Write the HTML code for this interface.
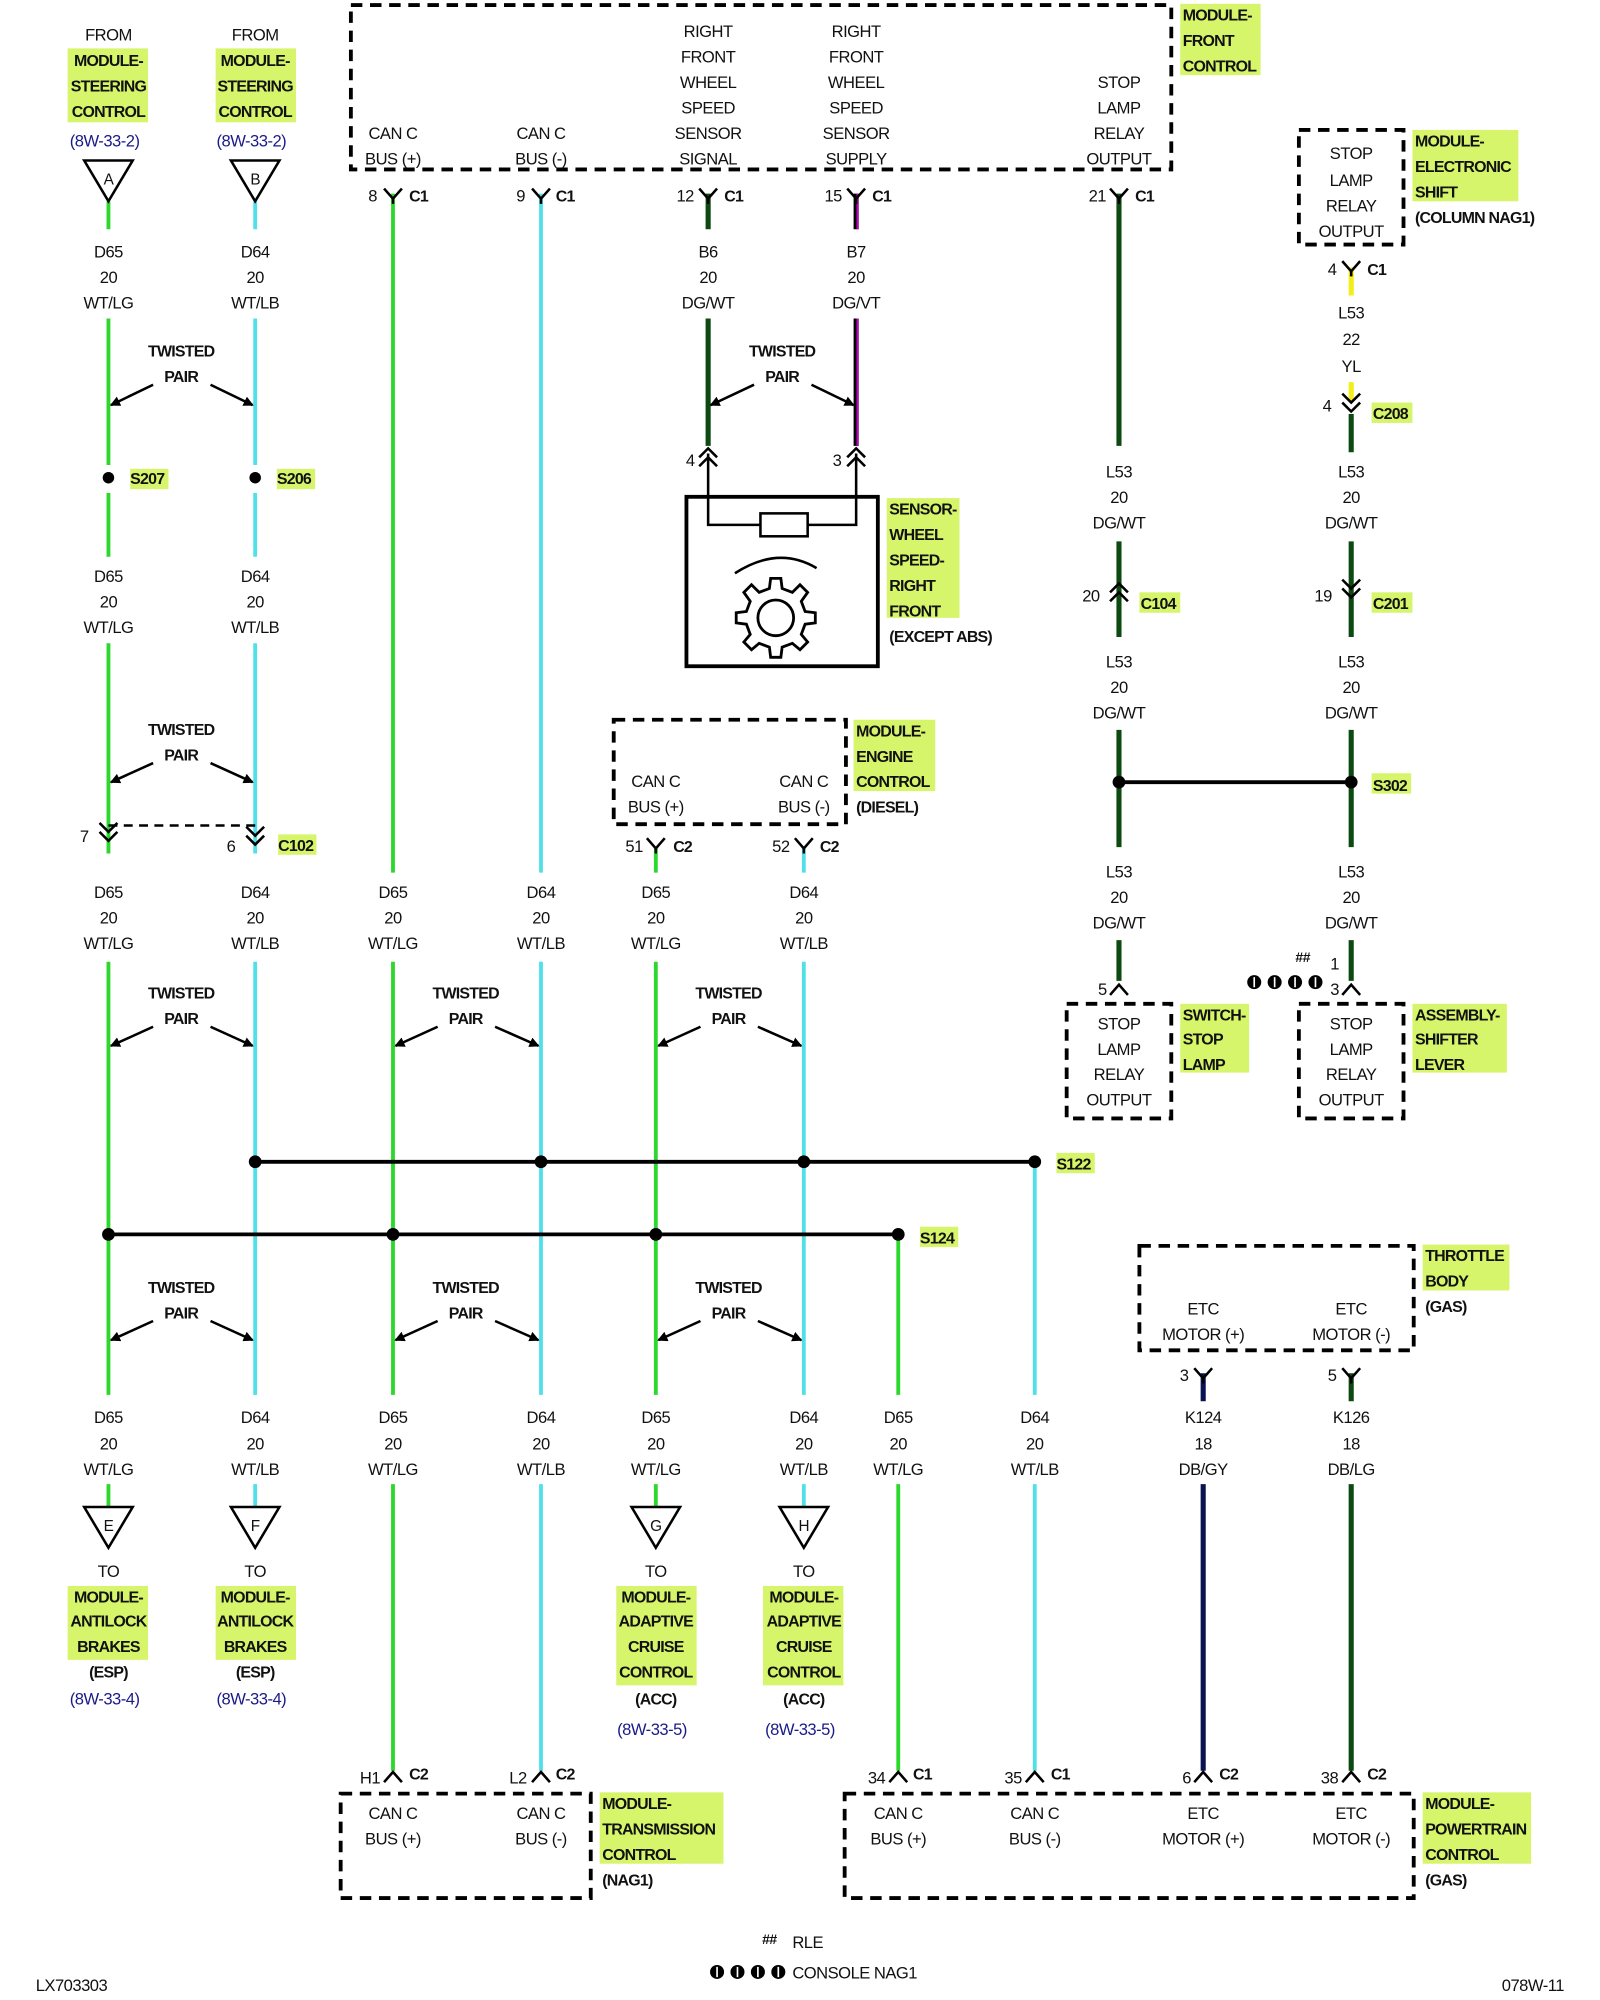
<!DOCTYPE html>
<html><head><meta charset="utf-8"><style>
html,body{margin:0;padding:0;background:#fff}
svg{display:block}
text{font-family:"Liberation Sans",sans-serif;font-size:13px;text-anchor:middle;fill:#111;letter-spacing:-0.4px}
.b{font-weight:bold;font-size:12.5px;letter-spacing:-0.6px}
.l{text-anchor:start}
.bl{fill:#1a1a8a}
.hl{fill:#d6f56a}
.g{stroke:#2bd82b;stroke-width:3;fill:none}
.c{stroke:#4fe0ea;stroke-width:3;fill:none}
.d{stroke:#0d4a12;stroke-width:4;fill:none}
.y{stroke:#f2ee1a;stroke-width:4;fill:none}
.n{stroke:#0a1450;stroke-width:4;fill:none}
.k{stroke:#000;stroke-width:2;fill:none}
.box{stroke:#000;stroke-width:3;fill:none;stroke-dasharray:9,6}
</style></head><body>
<svg width="1600" height="2000" viewBox="0 0 1254 1570" preserveAspectRatio="none" xmlns="http://www.w3.org/2000/svg">
<defs>
<marker id="ah" markerWidth="8" markerHeight="8" refX="7" refY="4" orient="auto" markerUnits="userSpaceOnUse"><path d="M0,0 L8,4 L0,8 z" fill="#000"/></marker>
<path id="fy" d="M-7,-8 L0,0 L7,-8 M0,0 V4" stroke="#000" stroke-width="2" fill="none"/>
<path id="up1" d="M-7,5 L0,-3 L7,5" stroke="#000" stroke-width="2" fill="none"/>
<path id="up2" d="M-7,2 L0,-5 L7,2 M-7,9 L0,2 L7,9" stroke="#000" stroke-width="2" fill="none"/>
<path id="dn2" d="M-7,-9 L0,-2 L7,-9 M-7,-2 L0,5 L7,-2" stroke="#000" stroke-width="2" fill="none"/>
</defs>

<rect class="hl" x="53" y="38" width="63" height="58"/>
<rect class="hl" x="169" y="38" width="63" height="58"/>
<rect class="hl" x="925" y="3" width="63" height="56"/>
<rect class="hl" x="1107" y="102" width="83" height="56"/>
<rect class="hl" x="102" y="368" width="30" height="16"/>
<rect class="hl" x="217" y="368" width="30" height="16"/>
<rect class="hl" x="695" y="391" width="57" height="94"/>
<rect class="hl" x="893" y="465" width="32" height="16"/>
<rect class="hl" x="1075" y="316" width="32" height="16"/>
<rect class="hl" x="1075" y="465" width="32" height="16"/>
<rect class="hl" x="669" y="565" width="64" height="56"/>
<rect class="hl" x="1075" y="607" width="31" height="16"/>
<rect class="hl" x="218" y="655" width="30" height="16"/>
<rect class="hl" x="925" y="788" width="54" height="54"/>
<rect class="hl" x="1107" y="788" width="74" height="54"/>
<rect class="hl" x="828" y="905" width="30" height="16"/>
<rect class="hl" x="721" y="963" width="30" height="16"/>
<rect class="hl" x="1115" y="977" width="68" height="36"/>
<rect class="hl" x="53" y="1245" width="63" height="58"/>
<rect class="hl" x="169" y="1245" width="63" height="58"/>
<rect class="hl" x="483" y="1245" width="63" height="78"/>
<rect class="hl" x="598" y="1245" width="63" height="78"/>
<rect class="hl" x="470" y="1407" width="97" height="56"/>
<rect class="hl" x="1115" y="1407" width="85" height="56"/>

<rect class="box" x="275" y="4" width="643" height="129"/>
<rect class="box" x="1018" y="102" width="82" height="90"/>
<rect x="538" y="390" width="150" height="133" stroke="#000" stroke-width="3" fill="none"/>
<rect class="box" x="481" y="565" width="182" height="82"/>
<rect class="box" x="836" y="788" width="82" height="90"/>
<rect class="box" x="1018" y="788" width="82" height="90"/>
<rect class="box" x="893" y="978" width="215" height="82"/>
<rect class="box" x="267" y="1408" width="196" height="82"/>
<rect class="box" x="662" y="1408" width="446" height="82"/>

<path class="g" d="M85,158V180 M85,250V365 M85,387V437 M85,505V670 M85,755V1095 M85,1165V1183"/>
<path class="c" d="M200,158V180 M200,250V365 M200,387V437 M200,505V670 M200,755V1095 M200,1165V1183"/>
<path class="g" d="M308,152V685 M308,755V1095 M308,1165V1390"/>
<path class="c" d="M424,152V685 M424,755V1095 M424,1165V1390"/>
<path class="g" d="M514,665V685 M514,755V1095 M514,1165V1183"/>
<path class="c" d="M630,665V685 M630,755V1095 M630,1165V1183"/>
<path class="g" d="M704,969V1095 M704,1165V1390"/>
<path class="c" d="M811,912V1095 M811,1165V1390"/>
<path class="d" d="M555,152V180 M555,250V350"/>
<path d="M671,152V180 M671,250V350" stroke="#000" stroke-width="4" fill="none"/>
<path d="M672,152V180 M672,250V350" stroke="#c000c0" stroke-width="1.5" fill="none"/>
<path class="d" d="M877,152V350 M877,425V500 M877,573V665 M877,738V770"/>
<path class="y" d="M1059,210V232 M1059,300V315"/>
<path class="d" d="M1059,325V355 M1059,425V500 M1059,573V665 M1059,738V770"/>
<path class="n" d="M943,1078V1100 M943,1165V1390"/>
<path class="d" d="M1059,1078V1100 M1059,1165V1390"/>

<path d="M200,912H811 M85,969H704 M877,614H1059" stroke="#000" stroke-width="3"/>
<path d="M85,648H200" stroke="#000" stroke-width="2" stroke-dasharray="7,5"/>
<g fill="#000">
<circle cx="85" cy="375" r="4.5"/><circle cx="200" cy="375" r="4.5"/>
<circle cx="200" cy="912" r="5"/><circle cx="424" cy="912" r="5"/><circle cx="630" cy="912" r="5"/><circle cx="811" cy="912" r="5"/>
<circle cx="85" cy="969" r="5"/><circle cx="308" cy="969" r="5"/><circle cx="514" cy="969" r="5"/><circle cx="704" cy="969" r="5"/>
<circle cx="877" cy="614" r="5"/><circle cx="1059" cy="614" r="5"/>
</g>

<g stroke="#000" stroke-width="2" fill="#fff">
<path d="M66,126H104L85,158z"/><path d="M181,126H219L200,158z"/>
<path d="M66,1183H104L85,1215z"/><path d="M181,1183H219L200,1215z"/>
<path d="M495,1183H533L514,1215z"/><path d="M611,1183H649L630,1215z"/>
</g>
<text x="85" y="145" style="font-size:12px">A</text><text x="200" y="145" style="font-size:12px">B</text>
<text x="85" y="1202" style="font-size:12px">E</text><text x="200" y="1202" style="font-size:12px">F</text>
<text x="514" y="1202" style="font-size:12px">G</text><text x="630" y="1202" style="font-size:12px">H</text>

<use href="#fy" x="308" y="156"/><use href="#fy" x="424" y="156"/><use href="#fy" x="555" y="156"/><use href="#fy" x="671" y="156"/><use href="#fy" x="877" y="156"/>
<use href="#fy" x="1059" y="213"/><use href="#fy" x="514" y="666"/><use href="#fy" x="630" y="666"/>
<use href="#fy" x="943" y="1082"/><use href="#fy" x="1059" y="1082"/>
<use href="#up2" x="555" y="357"/><use href="#up2" x="671" y="357"/>
<use href="#up2" x="877" y="463"/>
<use href="#dn2" x="1059" y="464"/>
<use href="#dn2" x="1059" y="318"/>
<use href="#dn2" x="85" y="655"/><use href="#dn2" x="200" y="658"/>
<use href="#up1" x="877" y="776"/><use href="#up1" x="1059" y="776"/>
<use href="#up1" x="308" y="1394"/><use href="#up1" x="424" y="1394"/><use href="#up1" x="704" y="1394"/><use href="#up1" x="811" y="1394"/><use href="#up1" x="943" y="1394"/><use href="#up1" x="1059" y="1394"/>

<path class="k" d="M555,356V412H596 M671,356V412H633"/>
<rect x="596" y="403" width="37" height="18" stroke="#000" stroke-width="2" fill="#fff"/>
<path d="M576,450 Q610,428 640,446" stroke="#000" stroke-width="2" fill="none"/>
<g transform="translate(608,485)" stroke="#000" stroke-width="2.2" fill="none">
<path d="M-4,-31 H4 L5,-23 L13,-20 L19,-26 L25,-20 L20,-13 L23,-5 L31,-4 V4 L23,5 L20,13 L25,19 L19,25 L13,20 L5,23 L4,31 H-4 L-5,23 L-13,20 L-19,25 L-25,19 L-20,13 L-23,5 L-31,4 V-4 L-23,-5 L-20,-13 L-25,-20 L-19,-26 L-13,-20 L-5,-23 Z"/>
<circle r="14"/>
</g>

<g stroke="#000" stroke-width="2" marker-end="url(#ah)">
<path d="M120,302L87,318"/><path d="M165,302L198,318"/>
<path d="M120,599L87,614"/><path d="M165,599L198,614"/>
<path d="M120,806L87,821"/><path d="M165,806L198,821"/>
<path d="M343,806L310,821"/><path d="M388,806L422,821"/>
<path d="M549,806L516,821"/><path d="M594,806L628,821"/>
<path d="M120,1037L87,1052"/><path d="M165,1037L198,1052"/>
<path d="M343,1037L310,1052"/><path d="M388,1037L422,1052"/>
<path d="M549,1037L516,1052"/><path d="M594,1037L628,1052"/>
<path d="M591,302L557,318"/><path d="M636,302L669,318"/>
</g>
<g>
<text class="b" x="142" y="280">TWISTED</text><text class="b" x="142" y="300">PAIR</text>
<text class="b" x="142" y="577">TWISTED</text><text class="b" x="142" y="597">PAIR</text>
<text class="b" x="142" y="784">TWISTED</text><text class="b" x="142" y="804">PAIR</text>
<text class="b" x="365" y="784">TWISTED</text><text class="b" x="365" y="804">PAIR</text>
<text class="b" x="571" y="784">TWISTED</text><text class="b" x="571" y="804">PAIR</text>
<text class="b" x="142" y="1015">TWISTED</text><text class="b" x="142" y="1035">PAIR</text>
<text class="b" x="365" y="1015">TWISTED</text><text class="b" x="365" y="1035">PAIR</text>
<text class="b" x="571" y="1015">TWISTED</text><text class="b" x="571" y="1035">PAIR</text>
<text class="b" x="613" y="280">TWISTED</text><text class="b" x="613" y="300">PAIR</text>
</g>

<text x="85" y="32">FROM</text><text class="b" x="85" y="52">MODULE-</text><text class="b" x="85" y="72">STEERING</text><text class="b" x="85" y="92">CONTROL</text><text class="bl" x="82" y="115">(8W-33-2)</text>
<text x="200" y="32">FROM</text><text class="b" x="200" y="52">MODULE-</text><text class="b" x="200" y="72">STEERING</text><text class="b" x="200" y="92">CONTROL</text><text class="bl" x="197" y="115">(8W-33-2)</text>

<text x="308" y="109">CAN C</text><text x="308" y="129">BUS (+)</text>
<text x="424" y="109">CAN C</text><text x="424" y="129">BUS (-)</text>
<text x="555" y="29">RIGHT</text><text x="555" y="49">FRONT</text><text x="555" y="69">WHEEL</text><text x="555" y="89">SPEED</text><text x="555" y="109">SENSOR</text><text x="555" y="129">SIGNAL</text>
<text x="671" y="29">RIGHT</text><text x="671" y="49">FRONT</text><text x="671" y="69">WHEEL</text><text x="671" y="89">SPEED</text><text x="671" y="109">SENSOR</text><text x="671" y="129">SUPPLY</text>
<text x="877" y="69">STOP</text><text x="877" y="89">LAMP</text><text x="877" y="109">RELAY</text><text x="877" y="129">OUTPUT</text>
<text class="b l" x="927" y="16">MODULE-</text><text class="b l" x="927" y="36">FRONT</text><text class="b l" x="927" y="56">CONTROL</text>
<text x="292" y="158">8</text><text class="b" x="328" y="158">C1</text>
<text x="408" y="158">9</text><text class="b" x="443" y="158">C1</text>
<text x="537" y="158">12</text><text class="b" x="575" y="158">C1</text>
<text x="653" y="158">15</text><text class="b" x="691" y="158">C1</text>
<text x="860" y="158">21</text><text class="b" x="897" y="158">C1</text>

<text x="1059" y="125">STOP</text><text x="1059" y="146">LAMP</text><text x="1059" y="166">RELAY</text><text x="1059" y="186">OUTPUT</text>
<text class="b l" x="1109" y="115">MODULE-</text><text class="b l" x="1109" y="135">ELECTRONIC</text><text class="b l" x="1109" y="155">SHIFT</text><text class="b l" x="1109" y="175">(COLUMN NAG1)</text>
<text x="1044" y="216">4</text><text class="b" x="1079" y="216">C1</text>
<text x="1059" y="250">L53</text><text x="1059" y="271">22</text><text x="1059" y="292">YL</text>
<text x="1040" y="323">4</text><text class="b l" x="1076" y="329">C208</text>

<text x="85" y="202">D65</text><text x="85" y="222">20</text><text x="85" y="242">WT/LG</text>
<text x="200" y="202">D64</text><text x="200" y="222">20</text><text x="200" y="242">WT/LB</text>
<text x="555" y="202">B6</text><text x="555" y="222">20</text><text x="555" y="242">DG/WT</text>
<text x="671" y="202">B7</text><text x="671" y="222">20</text><text x="671" y="242">DG/VT</text>
<text class="b l" x="102" y="380">S207</text><text class="b l" x="217" y="380">S206</text>
<text x="541" y="366">4</text><text x="656" y="366">3</text>
<text class="b l" x="697" y="404">SENSOR-</text><text class="b l" x="697" y="424">WHEEL</text><text class="b l" x="697" y="444">SPEED-</text><text class="b l" x="697" y="464">RIGHT</text><text class="b l" x="697" y="484">FRONT</text><text class="b l" x="697" y="504">(EXCEPT ABS)</text>

<text x="877" y="375">L53</text><text x="877" y="395">20</text><text x="877" y="415">DG/WT</text>
<text x="1059" y="375">L53</text><text x="1059" y="395">20</text><text x="1059" y="415">DG/WT</text>
<text x="855" y="472">20</text><text class="b l" x="894" y="478">C104</text>
<text x="1037" y="472">19</text><text class="b l" x="1076" y="478">C201</text>
<text x="877" y="524">L53</text><text x="877" y="544">20</text><text x="877" y="564">DG/WT</text>
<text x="1059" y="524">L53</text><text x="1059" y="544">20</text><text x="1059" y="564">DG/WT</text>
<text class="b l" x="1076" y="621">S302</text>
<text x="877" y="689">L53</text><text x="877" y="709">20</text><text x="877" y="729">DG/WT</text>
<text x="1059" y="689">L53</text><text x="1059" y="709">20</text><text x="1059" y="729">DG/WT</text>

<text x="85" y="457">D65</text><text x="85" y="477">20</text><text x="85" y="497">WT/LG</text>
<text x="200" y="457">D64</text><text x="200" y="477">20</text><text x="200" y="497">WT/LB</text>
<text x="66" y="661">7</text><text x="181" y="669">6</text><text class="b l" x="218" y="668">C102</text>

<text x="514" y="618">CAN C</text><text x="514" y="638">BUS (+)</text>
<text x="630" y="618">CAN C</text><text x="630" y="638">BUS (-)</text>
<text class="b l" x="671" y="578">MODULE-</text><text class="b l" x="671" y="598">ENGINE</text><text class="b l" x="671" y="618">CONTROL</text><text class="b l" x="671" y="638">(DIESEL)</text>
<text x="497" y="669">51</text><text class="b" x="535" y="669">C2</text>
<text x="612" y="669">52</text><text class="b" x="650" y="669">C2</text>

<g>
<text x="85" y="705">D65</text><text x="85" y="725">20</text><text x="85" y="745">WT/LG</text>
<text x="200" y="705">D64</text><text x="200" y="725">20</text><text x="200" y="745">WT/LB</text>
<text x="308" y="705">D65</text><text x="308" y="725">20</text><text x="308" y="745">WT/LG</text>
<text x="424" y="705">D64</text><text x="424" y="725">20</text><text x="424" y="745">WT/LB</text>
<text x="514" y="705">D65</text><text x="514" y="725">20</text><text x="514" y="745">WT/LG</text>
<text x="630" y="705">D64</text><text x="630" y="725">20</text><text x="630" y="745">WT/LB</text>
</g>

<text x="864" y="781">5</text>
<text x="1021" y="755" style="font-size:11px;font-weight:bold">##</text>
<text x="1046" y="761">1</text><text x="1046" y="781">3</text>
<g fill="#000"><circle cx="983" cy="771" r="5.5"/><circle cx="999" cy="771" r="5.5"/><circle cx="1015" cy="771" r="5.5"/><circle cx="1031" cy="771" r="5.5"/></g>
<g stroke="#fff" stroke-width="1.3"><path d="M983,767V775 M999,767V775 M1015,767V775 M1031,767V775"/></g>
<text x="877" y="808">STOP</text><text x="877" y="828">LAMP</text><text x="877" y="848">RELAY</text><text x="877" y="868">OUTPUT</text>
<text x="1059" y="808">STOP</text><text x="1059" y="828">LAMP</text><text x="1059" y="848">RELAY</text><text x="1059" y="868">OUTPUT</text>
<text class="b l" x="927" y="801">SWITCH-</text><text class="b l" x="927" y="820">STOP</text><text class="b l" x="927" y="840">LAMP</text>
<text class="b l" x="1109" y="801">ASSEMBLY-</text><text class="b l" x="1109" y="820">SHIFTER</text><text class="b l" x="1109" y="840">LEVER</text>

<text class="b l" x="828" y="918">S122</text><text class="b l" x="721" y="976">S124</text>

<text x="943" y="1032">ETC</text><text x="943" y="1052">MOTOR (+)</text>
<text x="1059" y="1032">ETC</text><text x="1059" y="1052">MOTOR (-)</text>
<text class="b l" x="1117" y="990">THROTTLE</text><text class="b l" x="1117" y="1010">BODY</text><text class="b l" x="1117" y="1030">(GAS)</text>
<text x="928" y="1084">3</text><text x="1044" y="1084">5</text>

<g>
<text x="85" y="1117">D65</text><text x="85" y="1138">20</text><text x="85" y="1158">WT/LG</text>
<text x="200" y="1117">D64</text><text x="200" y="1138">20</text><text x="200" y="1158">WT/LB</text>
<text x="308" y="1117">D65</text><text x="308" y="1138">20</text><text x="308" y="1158">WT/LG</text>
<text x="424" y="1117">D64</text><text x="424" y="1138">20</text><text x="424" y="1158">WT/LB</text>
<text x="514" y="1117">D65</text><text x="514" y="1138">20</text><text x="514" y="1158">WT/LG</text>
<text x="630" y="1117">D64</text><text x="630" y="1138">20</text><text x="630" y="1158">WT/LB</text>
<text x="704" y="1117">D65</text><text x="704" y="1138">20</text><text x="704" y="1158">WT/LG</text>
<text x="811" y="1117">D64</text><text x="811" y="1138">20</text><text x="811" y="1158">WT/LB</text>
<text x="943" y="1117">K124</text><text x="943" y="1138">18</text><text x="943" y="1158">DB/GY</text>
<text x="1059" y="1117">K126</text><text x="1059" y="1138">18</text><text x="1059" y="1158">DB/LG</text>
</g>

<text x="85" y="1238">TO</text><text class="b" x="85" y="1258">MODULE-</text><text class="b" x="85" y="1277">ANTILOCK</text><text class="b" x="85" y="1297">BRAKES</text><text class="b" x="85" y="1317">(ESP)</text><text class="bl" x="82" y="1338">(8W-33-4)</text>
<text x="200" y="1238">TO</text><text class="b" x="200" y="1258">MODULE-</text><text class="b" x="200" y="1277">ANTILOCK</text><text class="b" x="200" y="1297">BRAKES</text><text class="b" x="200" y="1317">(ESP)</text><text class="bl" x="197" y="1338">(8W-33-4)</text>
<text x="514" y="1238">TO</text><text class="b" x="514" y="1258">MODULE-</text><text class="b" x="514" y="1277">ADAPTIVE</text><text class="b" x="514" y="1297">CRUISE</text><text class="b" x="514" y="1317">CONTROL</text><text class="b" x="514" y="1338">(ACC)</text><text class="bl" x="511" y="1362">(8W-33-5)</text>
<text x="630" y="1238">TO</text><text class="b" x="630" y="1258">MODULE-</text><text class="b" x="630" y="1277">ADAPTIVE</text><text class="b" x="630" y="1297">CRUISE</text><text class="b" x="630" y="1317">CONTROL</text><text class="b" x="630" y="1338">(ACC)</text><text class="bl" x="627" y="1362">(8W-33-5)</text>

<text x="290" y="1400">H1</text><text class="b" x="328" y="1397">C2</text>
<text x="406" y="1400">L2</text><text class="b" x="443" y="1397">C2</text>
<text x="687" y="1400">34</text><text class="b" x="723" y="1397">C1</text>
<text x="794" y="1400">35</text><text class="b" x="831" y="1397">C1</text>
<text x="930" y="1400">6</text><text class="b" x="963" y="1397">C2</text>
<text x="1042" y="1400">38</text><text class="b" x="1079" y="1397">C2</text>

<text x="308" y="1428">CAN C</text><text x="308" y="1448">BUS (+)</text>
<text x="424" y="1428">CAN C</text><text x="424" y="1448">BUS (-)</text>
<text class="b l" x="472" y="1420">MODULE-</text><text class="b l" x="472" y="1440">TRANSMISSION</text><text class="b l" x="472" y="1460">CONTROL</text><text class="b l" x="472" y="1480">(NAG1)</text>
<text x="704" y="1428">CAN C</text><text x="704" y="1448">BUS (+)</text>
<text x="811" y="1428">CAN C</text><text x="811" y="1448">BUS (-)</text>
<text x="943" y="1428">ETC</text><text x="943" y="1448">MOTOR (+)</text>
<text x="1059" y="1428">ETC</text><text x="1059" y="1448">MOTOR (-)</text>
<text class="b l" x="1117" y="1420">MODULE-</text><text class="b l" x="1117" y="1440">POWERTRAIN</text><text class="b l" x="1117" y="1460">CONTROL</text><text class="b l" x="1117" y="1480">(GAS)</text>

<text x="603" y="1526" style="font-size:11px;font-weight:bold">##</text><text class="l" x="621" y="1529">RLE</text>
<g fill="#000"><circle cx="562" cy="1548" r="5.5"/><circle cx="578" cy="1548" r="5.5"/><circle cx="594" cy="1548" r="5.5"/><circle cx="610" cy="1548" r="5.5"/></g>
<g stroke="#fff" stroke-width="1.3"><path d="M562,1544V1552 M578,1544V1552 M594,1544V1552 M610,1544V1552"/></g>
<text class="l" x="621" y="1553">CONSOLE NAG1</text>
<text class="l" x="28" y="1563">LX703303</text>
<text class="l" x="1177" y="1563">078W-11</text>
</svg>
</body></html>
